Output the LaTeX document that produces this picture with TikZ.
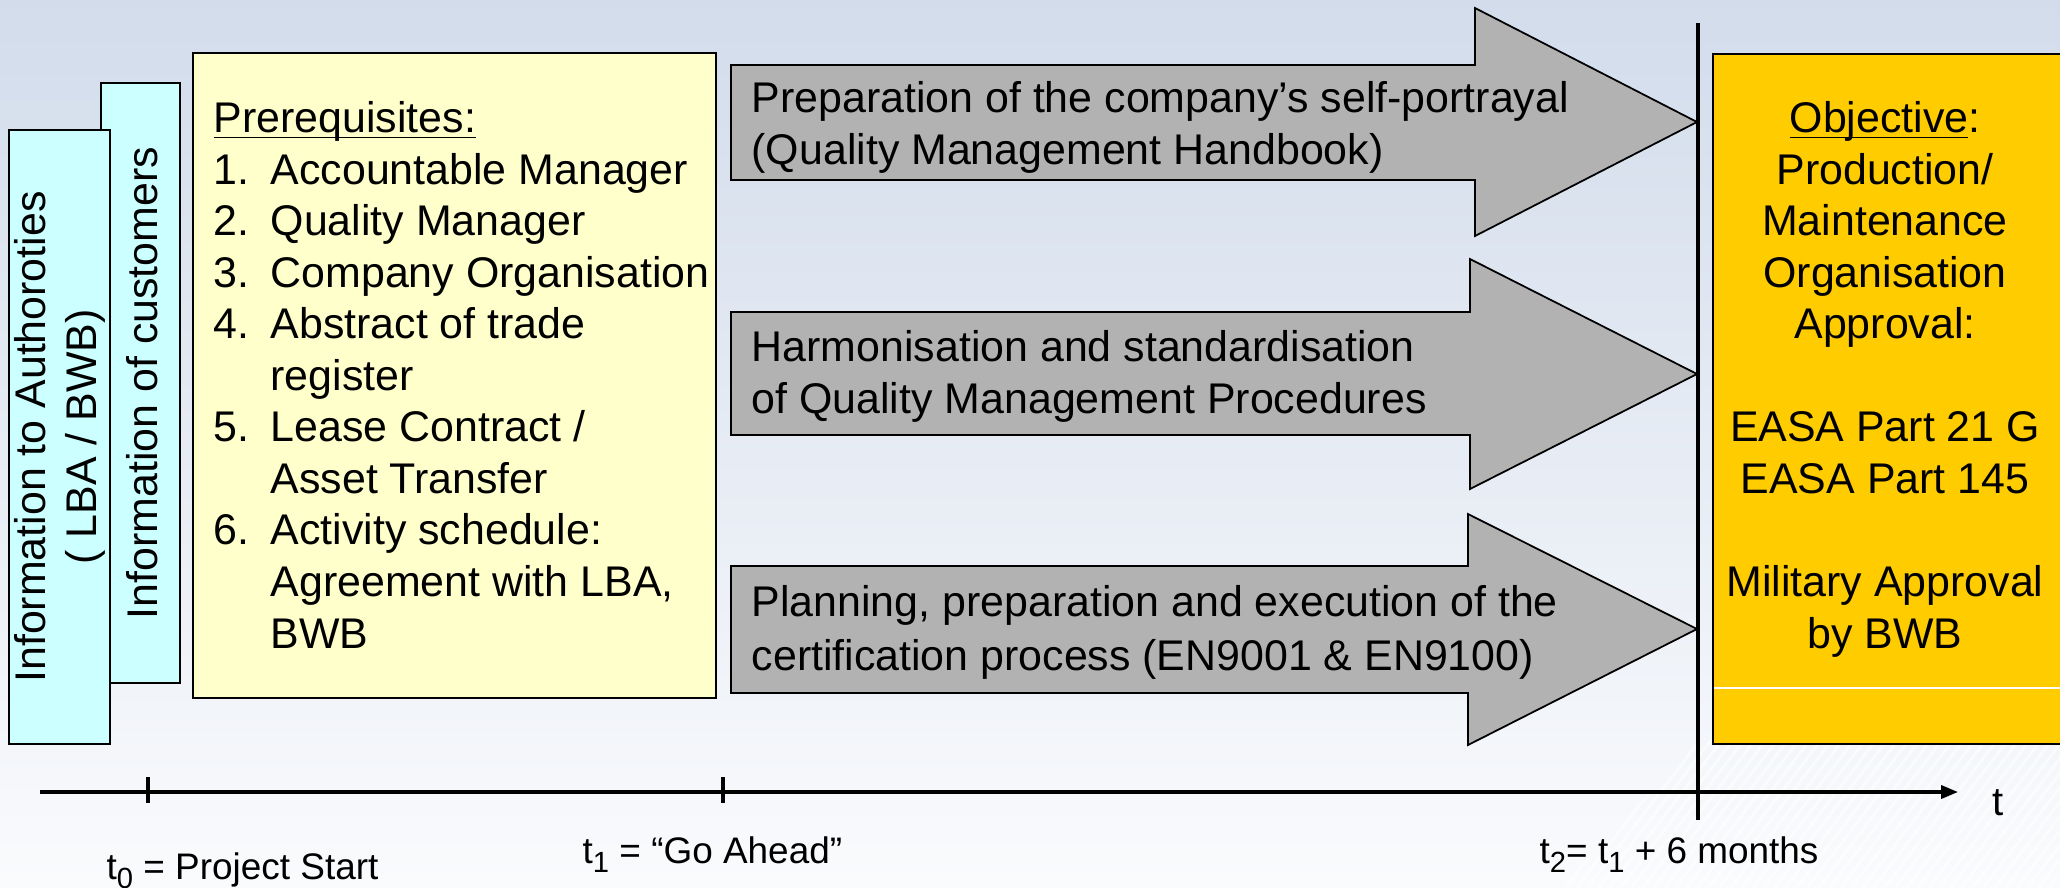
\documentclass[tikz,border=0pt]{standalone}
\usepackage{fontspec}
\setmainfont{Liberation Sans}
\usetikzlibrary{arrows.meta}
\definecolor{bgtop}{RGB}{210,220,235}
\definecolor{bgbot}{RGB}{250,251,253}
\definecolor{infocyan}{RGB}{204,255,255}
\definecolor{prqyellow}{RGB}{255,255,204}
\definecolor{arrgray}{RGB}{178,178,178}
\definecolor{objgold}{RGB}{255,204,0}
\newcommand\nr[1]{\makebox[16.2pt][l]{#1}}
\newcommand\ulx[1]{\underline{\smash{#1}}}
\newcommand\sbs[1]{\raisebox{-2.8pt}{\fontsize{8.3}{9}\selectfont #1}}
\begin{document}
\begin{tikzpicture}[x=0.01cm,y=-0.01cm,
    txt/.style={inner sep=0pt,font=\fontsize{12.2}{14.65}\selectfont},
    lbl/.style={inner sep=0pt,font=\fontsize{10.5}{12.6}\selectfont},
    box/.style={draw=black,line width=0.6pt},
    blockarrow/.style={draw=black,line width=0.5pt,fill=arrgray,line join=miter}]
  \clip (0,0) rectangle (2060,887);
  \shade[top color=bgtop,bottom color=bgbot] (0,0) rectangle (2060,887); %背景
  \begin{scope}
    \clip (1560,887)--(1700,740)--(2060,740)--(2060,887)--cycle;
    \foreach \s in {1500,1511,...,2080}
      \draw[white,opacity=0.6,line width=0.8pt] (\s,887)--++(112,-147);
  \end{scope}
  % 箱
  \draw[box,fill=infocyan] (101,83) rectangle (180,683);
  \draw[box,fill=infocyan] (9,130) rectangle (110,744);
  \draw[box,fill=prqyellow] (193,53) rectangle (716,698);
  \draw[box,fill=objgold] (1713,54) rectangle (2070,744);
  \draw[white,line width=0.3pt] (1714,688)--(2060,688);
  % 矢印
  \draw[blockarrow] (731,65)--(1475,65)--(1475,8)--(1697,122)--(1475,236)--(1475,180)--(731,180)--cycle;
  \draw[blockarrow] (731,312)--(1470,312)--(1470,259)--(1697,374)--(1470,489)--(1470,435)--(731,435)--cycle;
  \draw[blockarrow] (731,566)--(1468,566)--(1468,514)--(1697,629)--(1468,745)--(1468,693)--(731,693)--cycle;
  % 文字
  \node[txt,rotate=90,align=center] (auth) at (60,437) {Information to Authoroties\\( LBA / BWB)};
  \node[txt,rotate=90] (cust) at (142,383) {Information of customers};
  \node[txt,anchor=base west,align=left] (prq) at (213,648) {\ulx{Prerequisites:}\\\nr{1.}Accountable Manager\\\nr{2.}Quality Manager\\\nr{3.}Company Organisation\\\nr{4.}Abstract of trade\\\nr{}register\\\nr{5.}Lease Contract /\\\nr{}Asset Transfer\\\nr{6.}Activity schedule:\\\nr{}Agreement with LBA,\\\nr{}BWB};
  \node[txt,anchor=base west,align=left] (prep) at (751,164) {Preparation of the company’s self-portrayal\\(Quality Management Handbook)};
  \node[txt,anchor=base west,align=left] (harm) at (751,413) {Harmonisation and standardisation\\of Quality Management Procedures};
  \node[txt,anchor=base west,align=left] (plan) at (751,670) {Planning, preparation and execution of the\\[0.6pt]certification process (EN9001 \& EN9100)};
  \node[txt,anchor=base,align=center] (obj) at (1885,648) {\ulx{Objective}:\\Production/\\Maintenance\\Organisation\\Approval:\\[14.65pt]EASA Part 21 G\\EASA Part 145\\[14.65pt]Military Approval\\by BWB};
  % 時間軸
  \coordinate (tstart) at (40,792);
  \coordinate (tend) at (1958,792);
  \coordinate (mtop) at (1698,23);
  \coordinate (mbot) at (1698,820);
  \draw[line width=0.95pt,-{Triangle[length=4.8pt,width=3.7pt]}] (tstart)--(tend); %t軸
  \foreach \tx in {148,723}
    \draw[line width=1.2pt] (\tx,777)--(\tx,803);
  \draw[line width=1.4pt] (mtop)--(mbot);
  \node[lbl,anchor=base west] (tzero) at (106,879) {t\sbs{0} = Project Start};
  \node[lbl,anchor=base west] (tone) at (582,863) {t\sbs{1} = “Go Ahead”};
  \node[lbl,anchor=base west] (ttwo) at (1539,863) {t\sbs{2}= t\sbs{1} + 6 months};
  \node[inner sep=0pt,anchor=base west,font=\fontsize{11.4}{13}\selectfont] (taxis) at (1992,815) {t};
\end{tikzpicture}
\end{document}
